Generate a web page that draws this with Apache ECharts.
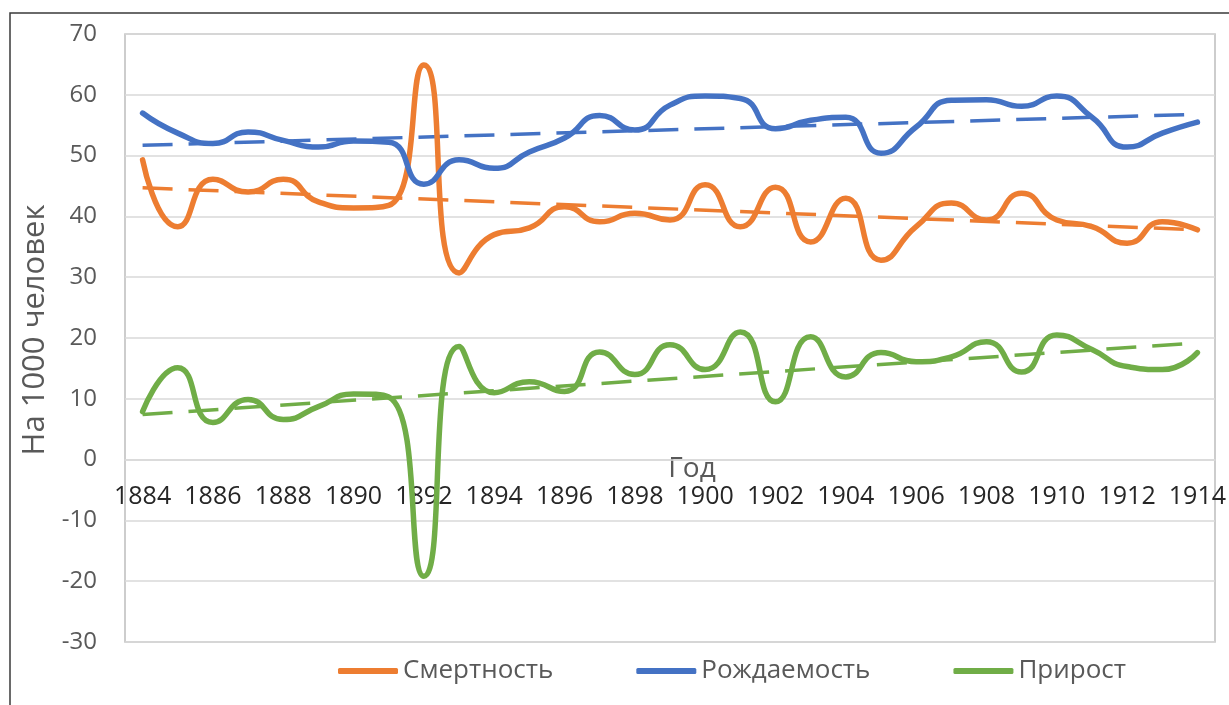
<!DOCTYPE html>
<html>
<head>
<meta charset="utf-8">
<script src="https://cdn.jsdelivr.net/npm/echarts@6/dist/echarts.min.js"></script>
<style>
  html, body { margin: 0; padding: 0; background: #fff; }
  #chart { width: 1229px; height: 705px; }
</style>
</head>
<body>
<div id="chart"></div>
<script>
  // годы
  const years = [];
  for (let y = 1884; y <= 1914; y++) years.push(String(y));

  // На 1000 человек
  const deathRate = [49.3, 38.3, 46.1, 44.0, 46.1, 42.4, 41.4, 41.8, 64.9, 30.7, 37.0, 38.1, 41.6, 39.1, 40.5, 39.4,
    45.2, 38.3, 44.8, 35.8, 43.0, 32.8, 38.3, 42.2, 39.4, 43.8, 39.4, 38.3, 35.6, 39.1, 37.8];
  const birthRate = [57.0, 53.7, 52.0, 53.9, 52.5, 51.4, 52.4, 52.2, 45.3, 49.3, 47.9, 50.6, 52.9, 56.6, 54.2, 58.3,
    59.8, 59.4, 54.4, 55.8, 56.3, 50.4, 54.7, 59.1, 59.2, 58.1, 59.8, 56.3, 51.4, 53.7, 55.5];
  const growthRate = [7.9, 15.1, 6.1, 9.9, 6.6, 8.7, 10.8, 10.3, -19.2, 18.6, 11.0, 12.8, 11.2, 17.7, 14.0, 18.9,
    14.8, 21.0, 9.5, 20.2, 13.6, 17.6, 16.1, 16.9, 19.4, 14.4, 20.5, 18.1, 15.3, 14.8, 17.6];

  // линии тренда (начало / конец)
  const trendYears = ['1884', '1914'];
  const trendDeath = [44.7, 37.8];
  const trendBirth = [51.7, 56.8];
  const trendGrowth = [7.4, 19.2];

  const yTicks = { min: -30, max: 70, step: 10 };

  const FONT = '"Open Sans", "Noto Sans", sans-serif';
  const ORANGE = '#ED7D31', BLUE = '#4472C4', GREEN = '#70AD47';
  const GRID = { left: 125, right: 14, top: 34, bottom: 63 };

  function solid(name, data, color) {
    return {
      name: name, type: 'line', data: data, smooth: 0.55,
      showSymbol: false, symbol: 'none',
      lineStyle: { color: color, width: 5.5, cap: 'round', join: 'round' },
      itemStyle: { color: color }
    };
  }
  function trend(name, vals, color) {
    return {
      name: name, type: 'line', symbol: 'none',
      data: trendYears.map((y, i) => [y, vals[i]]),
      lineStyle: { color: color, width: 3.5, type: [30, 16] },
      itemStyle: { color: color },
      z: 1
    };
  }

  const myChart = echarts.init(document.getElementById('chart'));
  const option = {
    backgroundColor: '#fff',
    animation: false,
    textStyle: { fontFamily: FONT },
    graphic: [{
      type: 'rect', silent: true,
      shape: { x: 10, y: 13, width: 1400, height: 900 },
      style: { fill: 'none', stroke: '#3a3a3a', lineWidth: 1.5 }
    }],
    grid: {
      left: GRID.left, right: GRID.right, top: GRID.top, bottom: GRID.bottom,
      outerBoundsMode: 'none',
      containLabel: false,
      show: true, borderColor: '#bdbdbd', borderWidth: 1.5, backgroundColor: '#fff'
    },
    legend: {
      bottom: 16, left: 333,
      itemWidth: 60, itemHeight: 6, itemGap: 83,
      icon: 'roundRect',
      data: ['Смертность', 'Рождаемость', 'Прирост'],
      textStyle: { fontFamily: FONT, fontSize: 26, color: '#595959' }
    },
    xAxis: {
      type: 'category',
      data: years,
      boundaryGap: true,
      offset: 0,
      name: 'Год',
      nameLocation: 'middle',
      nameGap: -5,
      nameMoveOverlap: false,
      nameTextStyle: { fontFamily: FONT, fontSize: 28, color: '#595959', padding: [0, 0, 0, 44] },
      axisLine: { onZero: false, lineStyle: { color: '#d9d9d9', width: 1.5 } },
      axisTick: { show: false },
      axisLabel: { interval: 1, margin: 25, fontFamily: FONT, fontSize: 25, color: '#262626' },
      splitLine: { show: false }
    },
    yAxis: {
      type: 'value',
      min: yTicks.min, max: yTicks.max, interval: yTicks.step,
      name: 'На 1000 человек',
      nameLocation: 'middle',
      nameRotate: 90,
      nameGap: 60,
      nameTextStyle: { fontFamily: FONT, fontSize: 31, color: '#595959', padding: [0, 0, 0, 16] },
      axisLine: { show: false },
      axisTick: { show: false },
      axisLabel: { margin: 28, fontFamily: FONT, fontSize: 24, color: '#595959' },
      splitLine: { lineStyle: { color: '#d9d9d9', width: 1.5 } }
    },
    series: [
      trend('Тренд смертность', trendDeath, ORANGE),
      trend('Тренд рождаемость', trendBirth, BLUE),
      trend('Тренд прирост', trendGrowth, GREEN),
      solid('Смертность', deathRate, ORANGE),
      solid('Рождаемость', birthRate, BLUE),
      solid('Прирост', growthRate, GREEN)
    ]
  };
  myChart.setOption(option, true);

  // ось X проходит через 0 (как в Excel): сдвигаем её к нулю шкалы Y
  const zeroY = myChart.convertToPixel({ yAxisIndex: 0 }, 0);
  const bottomY = myChart.getHeight() - GRID.bottom;
  myChart.setOption({ xAxis: { offset: zeroY - bottomY } });
</script>
</body>
</html>
